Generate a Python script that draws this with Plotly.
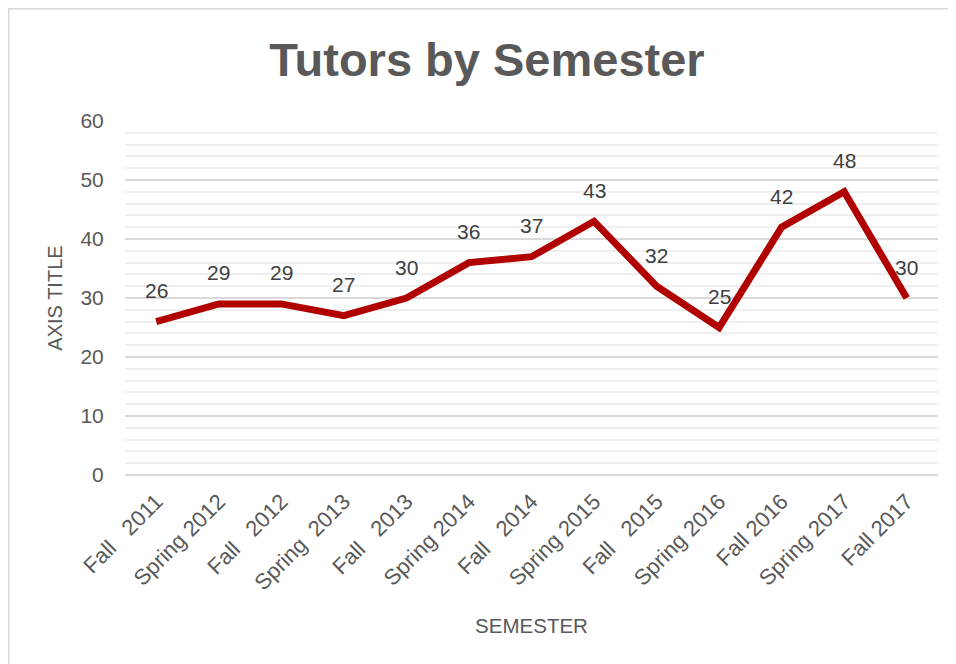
import plotly.graph_objects as go

NB = "\u00a0"
semesters = [
    "Fall" + NB * 3 + "2011", "Spring 2012", "Fall" + NB * 3 + "2012", "Spring" + NB * 2 + "2013",
    "Fall" + NB * 3 + "2013", "Spring 2014", "Fall" + NB * 3 + "2014", "Spring 2015",
    "Fall" + NB * 3 + "2015", "Spring 2016", "Fall 2016", "Spring 2017", "Fall 2017",
]
tutors = [26, 29, 29, 27, 30, 36, 37, 43, 32, 25, 42, 48, 30]
y_ticks = [0, 10, 20, 30, 40, 50, 60]

FONT = "Liberation Sans"
GREY = "#595959"

# the page body has an 8px margin; figure sized so that it fits without scrollbars
W, H = 948, 656
L, R, T, B = 117, 18, 113, 189
PW, PH = W - L - R, H - T - B

fig = go.Figure()
fig.add_trace(go.Scatter(
    x=semesters, y=tutors, mode="lines",
    line=dict(color="#B00000", width=7),
    hoverinfo="skip", showlegend=False,
))

annotations = [
    dict(x=s, y=v, text=str(v), showarrow=False, yshift=31,
         font=dict(family=FONT, size=21, color="#404040"))
    for s, v in zip(semesters, tutors)
]

fig.update_layout(
    width=W, height=H,
    margin=dict(l=L, r=R, t=T, b=B, autoexpand=False),
    paper_bgcolor="white", plot_bgcolor="white",
    font=dict(family=FONT, color=GREY),
    title=dict(text="Tutors by Semester", x=479 / W, xref="container", xanchor="center",
               y=1 - 52 / H, yref="container", yanchor="middle",
               font=dict(family=FONT, size=47, color=GREY, weight="bold")),
    annotations=annotations,
    shapes=[dict(type="rect", xref="paper", yref="paper",
                 x0=(0.75 - L) / PW, x1=1.2, y0=-0.7, y1=1 + (T - 0.75) / PH,
                 line=dict(color="#d9d9d9", width=1.5), layer="below")],
    xaxis=dict(
        type="category", range=[-0.5, len(semesters) - 0.5],
        tickangle=-45, showgrid=False, showline=False, zeroline=False,
        ticks="outside", ticklen=4, tickcolor="rgba(0,0,0,0)",
        tickfont=dict(family=FONT, size=22, color=GREY),
        title=dict(text="SEMESTER", standoff=24, font=dict(family=FONT, size=20.5, color=GREY)),
        automargin=False,
    ),
    yaxis=dict(
        range=[0, 60], tickvals=y_ticks, showgrid=True, gridcolor="#d9d9d9", gridwidth=1.5,
        zeroline=True, zerolinecolor="#d9d9d9", zerolinewidth=1.5, showline=False,
        minor=dict(dtick=2, showgrid=True, gridcolor="#efefef", gridwidth=1.5),
        ticks="outside", ticklen=16, tickcolor="rgba(0,0,0,0)",
        tickfont=dict(family=FONT, size=21, color=GREY),
        title=dict(text="AXIS TITLE", standoff=12, font=dict(family=FONT, size=20, color=GREY)),
        automargin=False,
    ),
)

fig.write_html("out.html")
